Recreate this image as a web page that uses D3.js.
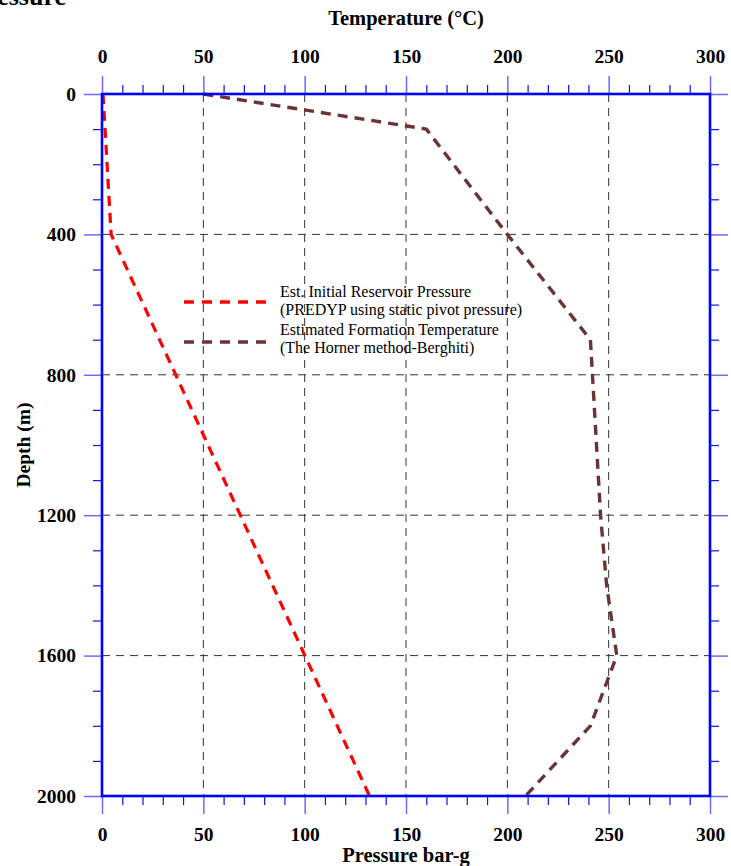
<!DOCTYPE html>
<html>
<head>
<meta charset="utf-8">
<script src="https://cdn.jsdelivr.net/npm/d3@7/dist/d3.min.js"></script>
<style>
  html, body { margin: 0; padding: 0; background: #ffffff; }
  svg { display: block; }
  text { font-family: "Liberation Serif", "Times New Roman", serif; fill: #000; }
</style>
</head>
<body>
<script>
// Depth profiles: reservoir pressure and formation temperature
const pressureDepth = [0, 400, 2000];
const pressureValue = [0.5, 4.5, 132];

const tempDepth = [0, 100, 400, 700, 800, 1200, 1400, 1600, 1800, 2000];
const tempValue = [50, 160, 200, 241, 242, 246, 249, 254, 241, 209];

const xMajorTicks = [0, 50, 100, 150, 200, 250, 300];
const xMinorTicks = d3.range(0, 301, 10);
const yMajorTicks = [0, 400, 800, 1200, 1600, 2000];
const yMinorTicks = d3.range(0, 2001, 100);

const legendLabels = [
  ["Est. Initial Reservoir Pressure", "(PREDYP using static pivot pressure)"],
  ["Estimated Formation Temperature", "(The Horner method-Berghiti)"]
];

const W = 731, H = 866;
const plot = { left: 102, right: 710, top: 94, bottom: 796 };
const serif = "'Liberation Serif', 'Times New Roman', serif";

const svg = d3.select("body").append("svg").attr("width", W).attr("height", H);

const xTemp = d3.scaleLinear().domain([0, 300]).range([plot.left, plot.right]);
const xPres = d3.scaleLinear().domain([0, 300]).range([plot.left, plot.right]);
const yDepth = d3.scaleLinear().domain([0, 2000]).range([plot.top, plot.bottom]);

// Tail of a heading above the figure
svg.append("text").attr("x", 66).attr("y", 5).attr("text-anchor", "end")
  .style("font-family", serif).style("font-size", "26px").style("font-weight", "bold").text("Pressure");

// Dashed grid
const grid = svg.append("g").attr("stroke", "#333333").attr("stroke-width", 1)
  .attr("stroke-dasharray", "8,6");
grid.selectAll("line.v").data(xMajorTicks.filter(d => d > 0 && d < 300)).join("line")
  .attr("x1", d => xPres(d)).attr("x2", d => xPres(d))
  .attr("y1", plot.top).attr("y2", plot.bottom);
grid.selectAll("line.h").data(yMajorTicks.filter(d => d > 0 && d < 2000)).join("line")
  .attr("x1", plot.left).attr("x2", plot.right)
  .attr("y1", d => yDepth(d)).attr("y2", d => yDepth(d));

// Axis helper: minor ticks in dark blue, major ticks in lighter blue
function styleAxis(g, color, width) {
  g.select(".domain").remove();
  g.selectAll(".tick line").attr("stroke", color).attr("stroke-width", width);
  g.selectAll(".tick text").style("font-family", serif)
    .style("font-weight", "bold").style("font-size", "19.5px").attr("fill", "#000");
}

function drawAxis(axisFn, scale, minor, major, transform, labels) {
  const gMin = svg.append("g").attr("transform", transform)
    .call(axisFn(scale).tickValues(minor.filter(d => !major.includes(d))).tickSize(9).tickFormat(""));
  styleAxis(gMin, "#1010ff", 1.2);
  const gMaj = svg.append("g").attr("transform", transform)
    .call(axisFn(scale).tickValues(major).tickSize(18).tickPadding(labels ? 13 : 0)
      .tickFormat(labels ? d3.format("d") : ""));
  styleAxis(gMaj, "#6b6bff", 1.5);
  return gMaj;
}

drawAxis(d3.axisTop, xTemp, xMinorTicks, xMajorTicks, `translate(0,${plot.top})`, true);
drawAxis(d3.axisBottom, xPres, xMinorTicks, xMajorTicks, `translate(0,${plot.bottom})`, true);
const gLeft = drawAxis(d3.axisLeft, yDepth, yMinorTicks, yMajorTicks, `translate(${plot.left},0)`, true);
gLeft.selectAll(".tick text").attr("x", -26);
drawAxis(d3.axisRight, yDepth, yMinorTicks, yMajorTicks, `translate(${plot.right},0)`, false);

// Data lines
const presLine = d3.line().x(d => xPres(d[1])).y(d => yDepth(d[0]));
svg.append("path")
  .datum(pressureDepth.map((d, i) => [d, pressureValue[i]]))
  .attr("d", presLine).attr("fill", "none")
  .attr("stroke", "#ff0000").attr("stroke-width", 3.2).attr("stroke-dasharray", "10,7");

const tempLine = d3.line().x(d => xTemp(d[1])).y(d => yDepth(d[0]));
svg.append("path")
  .datum(tempDepth.map((d, i) => [d, tempValue[i]]))
  .attr("d", tempLine).attr("fill", "none")
  .attr("stroke", "#6b3333").attr("stroke-width", 3.4).attr("stroke-dasharray", "10,7");

// Plot frame
svg.append("rect").attr("x", plot.left).attr("y", plot.top)
  .attr("width", plot.right - plot.left).attr("height", plot.bottom - plot.top)
  .attr("fill", "none").attr("stroke", "#0000ff").attr("stroke-width", 2.6);

// Axis titles
svg.append("text").attr("x", 406).attr("y", 25).attr("text-anchor", "middle")
  .style("font-family", serif).style("font-size", "20.5px").style("font-weight", "bold").text("Temperature (°C)");
svg.append("text").attr("x", 406).attr("y", 862).attr("text-anchor", "middle")
  .style("font-family", serif).style("font-size", "20.5px").style("font-weight", "bold").text("Pressure bar-g");
svg.append("text").attr("transform", "translate(30,445) rotate(-90)").attr("text-anchor", "middle")
  .style("font-family", serif).style("font-size", "19.5px").style("font-weight", "bold").text("Depth (m)");

// Legend
const legendColors = ["#ff0000", "#6b3333"];
const legendY = [302, 342];
const textY = [[297, 315], [335, 353]];
const lg = svg.append("g");
legendLabels.forEach((lines, i) => {
  lg.append("line").attr("x1", 184).attr("x2", 266)
    .attr("y1", legendY[i]).attr("y2", legendY[i])
    .attr("stroke", legendColors[i]).attr("stroke-width", 3.4).attr("stroke-dasharray", "10,8");
  lines.forEach((t, j) => {
    lg.append("text").attr("x", 280).attr("y", textY[i][j])
      .style("font-family", serif).style("font-size", "16px").text(t);
  });
});
</script>
</body>
</html>
